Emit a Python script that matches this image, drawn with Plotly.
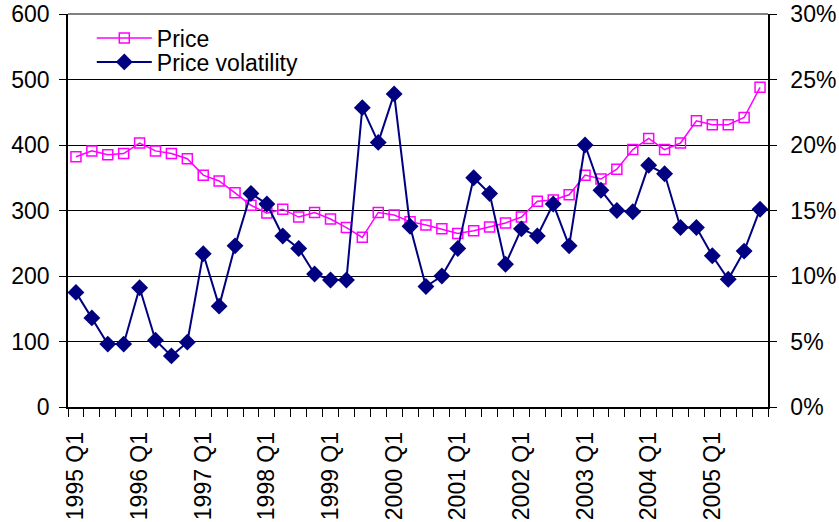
import plotly.graph_objects as go

# Quarterly series, 1995 Q1 - 2005 Q4
quarters = [f"{y} Q{q}" for y in range(1995, 2006) for q in range(1, 5)]

price = [382, 391, 385, 387, 403, 391, 387, 379, 354, 345, 327, 308,
         296, 302, 290, 297, 287, 274, 259, 297, 293, 283, 278, 272,
         265, 269, 275, 281, 290, 314, 316, 324, 354, 348, 363, 393,
         410, 393, 403, 437, 431, 431, 442, 488]

volatility = [8.75, 6.8, 4.8, 4.8, 9.1, 5.1, 3.9, 4.95, 11.7, 7.7, 12.3, 16.3,
              15.5, 13.05, 12.1, 10.15, 9.7, 9.7, 22.85, 20.2, 23.9, 13.8, 9.2, 10.0,
              12.1, 17.5, 16.3, 10.9, 13.6, 13.05, 15.5, 12.3, 20.0, 16.55, 15.0, 14.9,
              18.45, 17.8, 13.7, 13.7, 11.55, 9.75, 11.9, 15.1]

label_idx = list(range(0, len(quarters), 4))
label_text = [quarters[i] for i in label_idx]

xpos = list(range(len(quarters)))
FONT = "Liberation Sans, Arial, sans-serif"
FS = 23

fig = go.Figure()
fig.add_trace(go.Scatter(
    x=xpos, y=price, name="Price", mode="lines+markers",
    line=dict(color="#FF00FF", width=1.5),
    marker=dict(symbol="square-open", size=10, color="#FF00FF",
                line=dict(width=1.5, color="#FF00FF")),
    yaxis="y", legend="legend"))
fig.add_trace(go.Scatter(
    x=xpos, y=volatility, name="Price volatility", mode="lines+markers",
    line=dict(color="#000080", width=2),
    marker=dict(symbol="diamond", size=13, color="#000080"),
    yaxis="y2", legend="legend2"))

legend_style = dict(xanchor="left", yanchor="middle",
                    bgcolor="rgba(0,0,0,0)", font=dict(size=FS),
                    itemwidth=55, borderwidth=0)

fig.update_layout(
    width=839, height=522,
    margin=dict(l=68, r=71, t=14, b=115),
    paper_bgcolor="white", plot_bgcolor="white",
    font=dict(family=FONT, size=FS, color="black"),
    showlegend=True,
    legend=dict(x=0.034, y=0.939, **legend_style),
    legend2=dict(x=0.034, y=0.878, **legend_style),
    xaxis=dict(
        range=[-0.5, len(quarters) - 0.5], automargin=False,
        tickmode="array", tickvals=label_idx, ticktext=label_text,
        tickangle=-90, ticks="", showgrid=False, zeroline=False,
        showline=True, linecolor="black", linewidth=1.5,
        tickfont=dict(size=FS), ticklabelstandoff=14,
        minor=dict(tickmode="array",
                   tickvals=[i - 0.5 for i in range(len(quarters) + 1)],
                   ticks="outside", ticklen=8, tickwidth=1,
                   tickcolor="black", showgrid=False)),
    yaxis=dict(
        range=[0, 600], dtick=100, tick0=0, automargin=False,
        showline=True, linecolor="black", linewidth=1.5,
        ticks="outside", ticklen=7, tickcolor="black",
        showgrid=True, gridcolor="black", gridwidth=1,
        zeroline=False, tickfont=dict(size=FS), ticklabelstandoff=5),
    yaxis2=dict(
        range=[0, 30], dtick=5, tick0=0, ticksuffix="%", automargin=False,
        overlaying="y", side="right",
        showline=True, linecolor="black", linewidth=1.5,
        ticks="outside", ticklen=7, tickcolor="black",
        showgrid=False, zeroline=False, tickfont=dict(size=FS),
        ticklabelstandoff=9),
)

# grey frame line across the top of the plot area
fig.add_shape(type="line", xref="paper", yref="paper",
              x0=0, x1=1, y0=1, y1=1,
              line=dict(color="#808080", width=2))

fig.write_html("out.html")
